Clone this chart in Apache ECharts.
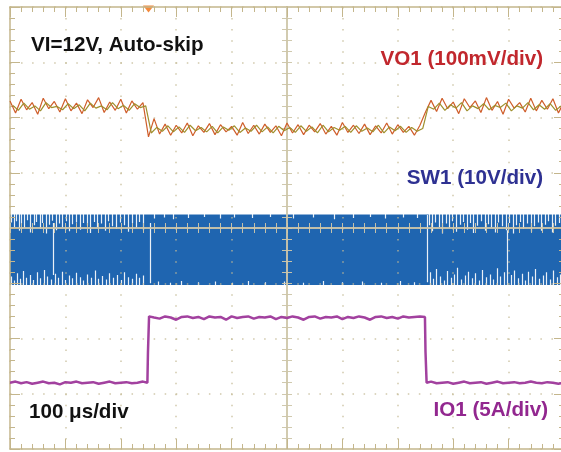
<!DOCTYPE html>
<html><head><meta charset="utf-8">
<script src="https://cdn.jsdelivr.net/npm/echarts@6/dist/echarts.min.js"></script>
<style>html,body{margin:0;padding:0;background:#fff}#c{width:561px;height:452px}</style>
</head><body><div id="c"></div>
<script>
// Time base (µs, relative to screen centre), 100 µs/div
const time = [
-500,-490,-480,-470,-460,-450,-440,-430,-420,-410,
-400,-390,-380,-370,-360,-350,-340,-330,-320,-310,
-300,-290,-280,-270,-260,-250,-240,-230,-220,-210,
-200,-190,-180,-170,-160,-150,-140,-130,-120,-110,
-100,-90,-80,-70,-60,-50,-40,-30,-20,-10,
0,10,20,30,40,50,60,70,80,90,
100,110,120,130,140,150,160,170,180,190,
200,210,220,230,240,250,260,270,280,290,
300,310,320,330,340,350,360,370,380,390,
400,410,420,430,440,450,460,470,480,490,
500];
// second persistence capture, sampled half a step later
const timeB = [
-495,-485,-475,-465,-455,-445,-435,-425,-415,-405,
-395,-385,-375,-365,-355,-345,-335,-325,-315,-305,
-295,-285,-275,-265,-255,-245,-235,-225,-215,-205,
-195,-185,-175,-165,-155,-145,-135,-125,-115,-105,
-95,-85,-75,-65,-55,-45,-35,-25,-15,-5,
5,15,25,35,45,55,65,75,85,95,
105,115,125,135,145,155,165,175,185,195,
205,215,225,235,245,255,265,275,285,295,
305,315,325,335,345,355,365,375,385,395,
405,415,425,435,445,455,465,475,485,495];
// VO1 (screen divisions), two persistence colours
const vo1A = [
2.30,2.08,2.33,2.14,2.27,2.06,2.35,2.16,2.29,2.10,
2.34,2.12,2.26,2.07,2.32,2.18,2.36,2.09,2.28,2.13,
2.33,2.08,2.30,2.15,2.27,1.65,1.98,1.70,1.88,1.68,
1.86,1.72,1.90,1.67,1.85,1.73,1.89,1.69,1.87,1.74,
1.84,1.68,1.91,1.71,1.86,1.70,1.88,1.73,1.85,1.67,
1.90,1.72,1.87,1.69,1.86,1.74,1.89,1.70,1.84,1.68,
1.91,1.73,1.86,1.71,1.88,1.69,1.85,1.72,1.90,1.70,
1.87,1.73,1.84,1.68,1.86,2.10,2.31,2.11,2.35,2.16,
2.28,2.07,2.34,2.18,2.30,2.09,2.36,2.13,2.29,2.06,
2.33,2.17,2.27,2.10,2.35,2.12,2.31,2.15,2.34,2.08,
2.29];
const vo1B = [
2.22,2.13,2.26,2.15,2.21,2.12,2.27,2.18,2.20,2.14,
2.25,2.16,2.23,2.12,2.26,2.17,2.21,2.14,2.27,2.16,
2.22,2.13,2.25,2.18,2.21,1.72,1.82,1.75,1.85,1.74,
1.83,1.73,1.86,1.76,1.82,1.74,1.84,1.72,1.83,1.77,
1.85,1.73,1.81,1.75,1.86,1.74,1.83,1.72,1.84,1.76,
1.82,1.73,1.85,1.75,1.83,1.72,1.86,1.74,1.82,1.77,
1.84,1.73,1.85,1.75,1.81,1.74,1.86,1.72,1.83,1.76,
1.84,1.73,1.82,1.75,1.80,2.20,2.15,2.26,2.13,2.23,
2.17,2.27,2.12,2.21,2.16,2.25,2.14,2.22,2.18,2.26,
2.12,2.21,2.17,2.27,2.14,2.23,2.15,2.25,2.13,2.21];
// IO1 (screen divisions)
const io1Time = [
-500,-490,-480,-470,-460,-450,-440,-430,-420,-410,
-400,-390,-380,-370,-360,-350,-340,-330,-320,-310,
-300,-290,-280,-270,-260,-252,-251,-249,-240,-230,
-220,-210,-200,-190,-180,-170,-160,-150,-140,-130,
-120,-110,-100,-90,-80,-70,-60,-50,-40,-30,
-20,-10,0,10,20,30,40,50,60,70,
80,90,100,110,120,130,140,150,160,170,
180,190,200,210,220,230,240,249,250,252,
260,270,280,290,300,310,320,330,340,350,
360,370,380,390,400,410,420,430,440,450,
460,470,480,490,500];
const io1Val = [
-2.80,-2.78,-2.81,-2.79,-2.82,-2.80,-2.78,-2.81,-2.80,-2.83,
-2.79,-2.80,-2.78,-2.81,-2.80,-2.79,-2.82,-2.80,-2.78,-2.81,
-2.80,-2.79,-2.81,-2.80,-2.78,-2.80,-2.26,-1.60,-1.62,-1.64,
-1.60,-1.62,-1.66,-1.61,-1.60,-1.63,-1.61,-1.65,-1.60,-1.62,
-1.61,-1.66,-1.60,-1.63,-1.61,-1.60,-1.64,-1.61,-1.62,-1.60,
-1.65,-1.61,-1.63,-1.60,-1.62,-1.66,-1.61,-1.60,-1.64,-1.61,
-1.62,-1.60,-1.65,-1.61,-1.63,-1.60,-1.62,-1.66,-1.61,-1.60,
-1.63,-1.61,-1.64,-1.60,-1.62,-1.61,-1.60,-1.61,-2.24,-2.80,
-2.78,-2.81,-2.80,-2.79,-2.82,-2.80,-2.78,-2.81,-2.80,-2.79,
-2.82,-2.80,-2.78,-2.81,-2.80,-2.79,-2.81,-2.80,-2.78,-2.80,
-2.81,-2.79,-2.80,-2.82,-2.80];
// SW1 switching envelope [bottom, top] (div) and skip gaps
const sw1Band = [-1.03, 0.235];
const swTopNotches = [
[-497,0.10],[-492,0.02],[-488,0.12],[-483,-0.05],[-479,0.08],[-474,0.00],[-468,0.14],[-463,-0.08],[-457,0.05],[-452,0.11],
[-446,-0.02],[-441,0.09],[-435,-0.10],[-429,0.06],[-424,0.13],[-417,-0.04],[-411,0.08],[-405,0.01],[-399,0.12],[-393,-0.06],
[-387,0.07],[-380,0.10],[-374,-0.03],[-368,0.09],[-361,0.04],[-355,-0.09],[-348,0.11],[-342,0.02],[-335,0.08],[-328,-0.05],
[-322,0.12],[-315,0.03],[-308,-0.02],[-301,0.10],[-294,0.05],[-287,-0.07],[-280,0.09],[-273,0.01],[-266,0.11],[-259,-0.04],
[-240,0.17],[-221,0.19],[-205,0.16],[-178,0.18],[-150,0.20],[-121,0.17],[-96,0.19],[-62,0.18],[-30,0.20],[12,0.17],
[48,0.19],[85,0.16],[120,0.18],[150,0.20],[178,0.17],[210,0.19],[236,0.18],
[256,0.05],[262,-0.06],[268,0.10],[274,0.02],[280,-0.10],[287,0.08],[293,0.00],[299,0.12],[306,-0.07],[312,0.06],
[318,0.11],[325,-0.03],[331,0.09],[337,-0.09],[344,0.04],[350,0.12],[357,-0.05],[363,0.07],[369,0.01],[376,-0.08],
[382,0.10],[389,0.03],[395,-0.04],[402,0.09],[408,-0.10],[414,0.05],[421,0.11],[427,-0.02],[434,0.08],[440,-0.07],
[447,0.03],[453,0.10],[459,-0.05],[466,0.06],[472,0.12],[479,-0.08],[485,0.04],[491,0.09],[497,-0.03]];
const swBotNotches = [
[-498,-0.88],[-493,-0.95],[-487,-0.82],[-481,-0.92],[-476,-0.78],[-470,-0.90],[-464,-0.85],[-458,-0.94],[-451,-0.80],[-445,-0.91],
[-439,-0.76],[-432,-0.88],[-426,-0.93],[-419,-0.83],[-413,-0.90],[-406,-0.79],[-400,-0.94],[-393,-0.86],[-387,-0.91],[-380,-0.81],
[-374,-0.89],[-367,-0.95],[-360,-0.84],[-354,-0.90],[-347,-0.77],[-341,-0.92],[-334,-0.87],[-327,-0.93],[-321,-0.82],[-314,-0.90],
[-307,-0.85],[-300,-0.94],[-294,-0.80],[-287,-0.89],[-280,-0.92],[-273,-0.83],[-266,-0.90],[-259,-0.86],
[-232,-0.97],[-210,-0.99],[-190,-0.96],[-160,-0.98],[-130,-0.97],[-98,-0.99],[-70,-0.96],[-40,-0.98],[-5,-0.97],[30,-0.99],
[66,-0.96],[100,-0.98],[135,-0.97],[170,-0.99],[205,-0.96],[230,-0.98],
[258,-0.80],[264,-0.92],[270,-0.74],[277,-0.88],[283,-0.95],[289,-0.78],[296,-0.90],[302,-0.84],[308,-0.72],[315,-0.93],
[321,-0.86],[327,-0.79],[334,-0.91],[340,-0.82],[347,-0.95],[353,-0.76],[359,-0.89],[366,-0.84],[372,-0.93],[379,-0.73],
[385,-0.88],[392,-0.80],[398,-0.94],[404,-0.85],[411,-0.77],[417,-0.91],[424,-0.83],[430,-0.95],[436,-0.79],[443,-0.88],
[449,-0.74],[456,-0.92],[462,-0.86],[468,-0.80],[475,-0.93],[481,-0.77],[488,-0.89],[494,-0.84]];
const swGaps = [[-422,0.09,-0.85],[-247,0.09,-1.00],[253,0.235,-0.98],[397,-0.04,-0.94]];
const triggerTime = -250;
const xRange = [-500, 500, 100];
const yRange = [-4, 4, 1];

const TAN = '#c4b68c';
const swLines = [];
swTopNotches.forEach(function (p) { swLines.push({coords: [[p[0], sw1Band[1] + 0.02], [p[0], p[1]]]}); });
swBotNotches.forEach(function (p) { swLines.push({coords: [[p[0], sw1Band[0] - 0.02], [p[0], p[1]]]}); });
swGaps.forEach(function (p) { swLines.push({coords: [[p[0], p[1]], [p[0], p[2]]]}); });
function pairs(xs, ys) { return xs.map(function (x, i) { return [x, ys[i]]; }); }

function axis(kind, extra) {
  const r = kind === 'x' ? xRange : yRange;
  const a = {
    type: 'value', min: r[0], max: r[1], interval: r[2], gridIndex: 0, z: 5,
    axisLabel: {show: false},
    splitLine: {show: false},
    axisLine: {show: true, onZero: false, lineStyle: {color: TAN, width: 1.5}},
    axisTick: {show: true, inside: true, length: 10, lineStyle: {color: TAN, width: 1}},
    minorTick: {show: true, splitNumber: 5, length: 5, lineStyle: {color: TAN, width: 1}},
    minorSplitLine: {show: false}
  };
  return Object.assign(a, extra);
}
const dotted = {show: true, lineStyle: {color: 'rgba(196,186,150,0.8)', width: 1.5, type: [1.5, 9.55]}};
const CEN = 'rgba(205,198,170,0.95)';
function centre(inside) {
  return {
    axisLine: {show: true, onZero: true, onZeroAxisIndex: 0, lineStyle: {color: CEN, width: 1.5}},
    axisTick: {show: true, inside: inside, length: 5, lineStyle: {color: CEN, width: 1}},
    minorTick: {show: true, splitNumber: 5, length: 5, lineStyle: {color: CEN, width: 1}}
  };
}

const chart = echarts.init(document.getElementById('c'), null, {renderer: 'canvas'});
const FONT = 'bold 20.6px "Liberation Sans", Arial, sans-serif';
chart.setOption({
  animation: false,
  backgroundColor: '#fff',
  grid: {left: 10, top: 7, width: 554, height: 442, outerBoundsMode: 'none', containLabel: false},
  xAxis: [
    axis('x', {position: 'bottom', splitLine: dotted}),
    axis('x', {position: 'top'}),
    axis('x', Object.assign({position: 'bottom'}, centre(true))),
    axis('x', Object.assign({position: 'bottom'}, centre(false)))
  ],
  yAxis: [
    axis('y', {position: 'left', splitLine: dotted}),
    axis('y', {position: 'right'}),
    axis('y', Object.assign({position: 'left'}, centre(true))),
    axis('y', Object.assign({position: 'left'}, centre(false)))
  ],
  series: [
    {
      name: 'SW1', type: 'line', xAxisIndex: 0, yAxisIndex: 0, z: 2,
      data: [[xRange[0], sw1Band[1]], [xRange[1], sw1Band[1]]],
      showSymbol: false, lineStyle: {color: '#1f65b0', width: 1},
      markArea: {silent: true, itemStyle: {color: '#1f65b0', opacity: 1},
        data: [[{coord: [xRange[0], sw1Band[0]]}, {coord: [xRange[1], sw1Band[1]]}]]}
    },
    {
      name: 'SW1 skip', type: 'lines', coordinateSystem: 'cartesian2d', xAxisIndex: 0, yAxisIndex: 0, z: 3,
      silent: true, data: swLines, lineStyle: {color: '#ffffff', width: 1.2, opacity: 0.9}
    },
    {
      name: 'VO1a', type: 'line', xAxisIndex: 0, yAxisIndex: 0, z: 6,
      data: pairs(time, vo1A), showSymbol: false, lineStyle: {color: '#cf5d2a', width: 1.2},
      markPoint: {silent: true, symbol: 'triangle', symbolSize: [11, 7], symbolRotate: 180, symbolOffset: [0, 2],
        itemStyle: {color: '#f48a3c'}, label: {show: false}, data: [{coord: [triggerTime, yRange[1]]}]}
    },
    {
      name: 'VO1b', type: 'line', xAxisIndex: 0, yAxisIndex: 0, z: 7,
      data: pairs(timeB, vo1B), showSymbol: false, lineStyle: {color: '#9e8f2c', width: 1.2}
    },
    {
      name: 'IO1', type: 'line', xAxisIndex: 0, yAxisIndex: 0, z: 6,
      data: pairs(io1Time, io1Val), showSymbol: false, lineStyle: {color: '#a2419f', width: 2.5}
    }
  ],
  graphic: [
    {type: 'text', left: 31, top: 35, z: 20, style: {text: 'VI=12V, Auto-skip', font: FONT, fill: '#111'}},
    {type: 'text', right: 18, top: 49, z: 20, style: {text: 'VO1 (100mV/div)', font: FONT, fill: '#c1272d'}},
    {type: 'text', right: 18, top: 168, z: 20, style: {text: 'SW1 (10V/div)', font: FONT, fill: '#2e3192'}},
    {type: 'text', left: 29, top: 402, z: 20, style: {text: '100 μs/div', font: FONT, fill: '#111'}},
    {type: 'text', right: 13, top: 400, z: 20, style: {text: 'IO1 (5A/div)', font: FONT, fill: '#92278f'}}
  ]
});
</script></body></html>
